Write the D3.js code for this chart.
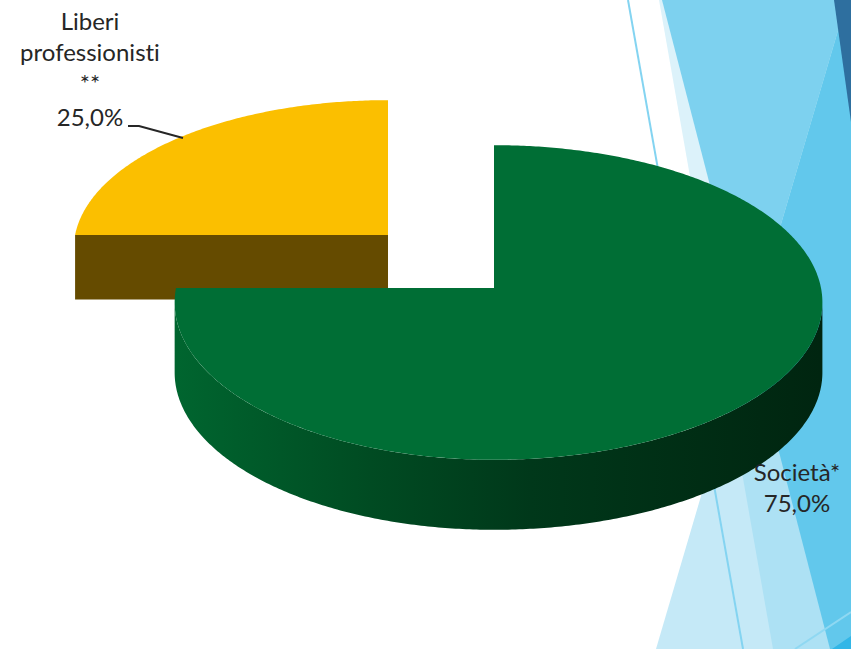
<!DOCTYPE html>
<html><head><meta charset="utf-8">
<script src="https://cdn.jsdelivr.net/npm/d3@7"></script>
<style>html,body{margin:0;padding:0;background:#fff;overflow:hidden}</style>
</head><body>
<svg id="c" width="851" height="649"></svg>
<script>
// ---- data ----
const categories = ["Liberi professionisti **", "Società*"];
const values = [25, 75];
const labelLines = [["Liberi", "professionisti", "**"], ["Società*"]];

// ---- style / layout ----
const W = 851, H = 649;
const topColors = ["#fbbf00", "#006e35"];
const cutColors = ["#654b00", "#004a22"];
const geom = [
  {cx: 388, cy: 235, sx: 0.984, sy: 0.944, sz: 0.92},
  {cx: 494, cy: 288, sx: 1, sy: 1, sz: 1}
];
const RXL = 318, RXR = 327, A = 156, B = 0.092, DEPTH = 70;

const svg = d3.select("#c");
const defs = svg.append("defs");

// ---- background facets ----
const Q = [[659,0],[851,0],[851,649],[773,649]];
const R = [[662,0],[851,0],[851,649],[830,649]];
const P = [[847,0],[851,0],[851,649],[656,649]];
const pts = a => a.map(p => p.join(",")).join(" ");
defs.append("clipPath").attr("id","clipQ").append("polygon").attr("points", pts(Q));
defs.append("clipPath").attr("id","clipR").append("polygon").attr("points", pts(R));
const bg = svg.append("g");
bg.append("rect").attr("width",W).attr("height",H).attr("fill","#fff");
bg.append("polygon").attr("points", pts(Q)).attr("fill","#dcf2fa");
bg.append("polygon").attr("points", pts(R)).attr("fill","#7dd1ef");
bg.append("polygon").attr("points", pts(P)).attr("fill","#c5e9f7");
bg.append("polygon").attr("points", pts(P)).attr("fill","#ade1f4").attr("clip-path","url(#clipQ)");
bg.append("polygon").attr("points", pts(P)).attr("fill","#62c8ec").attr("clip-path","url(#clipR)");
bg.append("polygon").attr("points", pts([[834,0],[851,0],[851,122]])).attr("fill","#2e6f9f");
bg.append("polygon").attr("points", pts([[832,649],[851,649],[851,636]])).attr("fill","#31b6e7");
bg.append("line").attr("x1",628).attr("y1",0).attr("x2",743).attr("y2",649)
  .attr("stroke","#84d4f1").attr("stroke-width",2);
bg.append("line").attr("x1",795).attr("y1",649).attr("x2",851).attr("y2",612)
  .attr("stroke","#8fd8f2").attr("stroke-width",2);

// ---- gradient for green side ----
const gg = defs.append("linearGradient").attr("id","gSide1")
  .attr("gradientUnits","userSpaceOnUse").attr("x1",177).attr("x2",821).attr("y1",0).attr("y2",0);
[[0,"#00652f"],[0.3,"#004b22"],[0.55,"#00381a"],[1,"#002510"]].forEach(s =>
  gg.append("stop").attr("offset", s[0]).attr("stop-color", s[1]));
const sideFill = ["#654b00", "url(#gSide1)"];

// ---- 3D pie ----
const pie = d3.pie().sort(null).startAngle(-Math.PI/2).endAngle(3*Math.PI/2);
const arcs = pie(values);

function proj(g, t, z, r) {
  const u = r * Math.sin(t), v = -r * Math.cos(t);
  const f = 1 / (1 - B * v);
  const rx = u < 0 ? RXL : RXR;
  return [g.cx + g.sx * rx * u * f, g.cy + g.sy * A * v * f + z * DEPTH * g.sz];
}
function arcPts(g, t0, t1, z) {
  const n = Math.max(2, Math.ceil(Math.abs(t1 - t0) / 0.01));
  return d3.range(n + 1).map(i => proj(g, t0 + (t1 - t0) * i / n, z, 1));
}
const line = d3.line();
const tR = Math.acos(-B), tL = 2 * Math.PI - tR;

const pg = svg.append("g");
arcs.forEach((d, i) => {
  const g = geom[i];
  const t0 = d.startAngle, t1 = d.endAngle;
  const slice = pg.append("g").attr("class", "slice");
  // cut faces facing the viewer
  [[t0, -Math.sin(t0)], [t1, Math.sin(t1)]].forEach(([t, vis]) => {
    if (vis > 0.01) {
      const c0 = proj(g, t, 0, 0), r0 = proj(g, t, 0, 1), r1 = proj(g, t, 1, 1), c1 = proj(g, t, 1, 0);
      slice.append("path").attr("d", line([c0, r0, r1, c1]) + "Z").attr("fill", cutColors[i]);
    }
  });
  // outer side
  const a0 = Math.max(t0, tR), a1 = Math.min(t1, tL);
  if (a1 > a0) {
    const topA = arcPts(g, a0, a1, 0), botA = arcPts(g, a1, a0, 1);
    slice.append("path").attr("d", line(topA.concat(botA)) + "Z").attr("fill", sideFill[i]);
  }
  // top face
  const c = proj(g, 0, 0, 0);
  slice.append("path").attr("d", line([c].concat(arcPts(g, t0, t1, 0))) + "Z").attr("fill", topColors[i]);
});

// ---- labels ----
const it = d3.formatLocale({decimal: ",", thousands: ".", grouping: [3], currency: ["€", ""]});
const pct = it.format(".1%");
const total = d3.sum(values);
const lab = svg.append("g").attr("font-family", "Lato, 'Open Sans', sans-serif")
  .attr("font-size", 24).attr("fill", "#262626").attr("text-anchor", "middle")
  .style("font-variant-ligatures", "none").style("font-feature-settings", "'liga' 0");
const labelPos = [{x: 90, y: 30, dy: 31, pdy: 34}, {x: 797, y: 481, dy: 31, pdy: 31}];
arcs.forEach((d, i) => {
  const p = labelPos[i];
  const t = lab.append("text").attr("x", p.x).attr("y", p.y);
  labelLines[i].forEach((s, k) => t.append("tspan").attr("x", p.x).attr("y", p.y + k * p.dy).text(s));
  const n = labelLines[i].length;
  t.append("tspan").attr("x", p.x).attr("y", p.y + (n - 1) * p.dy + p.pdy).text(pct(values[i] / total));
});
// leader line for the small slice
svg.append("path").attr("d", line([[128,126],[139,126],[183,138]]))
  .attr("fill", "none").attr("stroke", "#262626").attr("stroke-width", 2);
</script>
</body></html>
